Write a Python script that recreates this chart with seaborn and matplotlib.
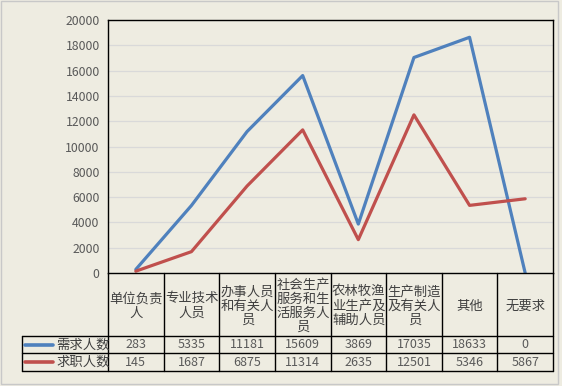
import matplotlib
matplotlib.use("Agg")
import matplotlib.pyplot as plt
import seaborn as sns
import pandas as pd
from matplotlib.lines import Line2D
from matplotlib.patches import Rectangle

categories = ["单位负责\n人", "专业技术\n人员", "办事人员\n和有关人\n员", "社会生产\n服务和生\n活服务人\n员",
              "农林牧渔\n业生产及\n辅助人员", "生产制造\n及有关人\n员", "其他", "无要求"]
series_names = ["需求人数", "求职人数"]
demand = [283, 5335, 11181, 15609, 3869, 17035, 18633, 0]
supply = [145, 1687, 6875, 11314, 2635, 12501, 5346, 5867]
yticks = [0, 2000, 4000, 6000, 8000, 10000, 12000, 14000, 16000, 18000, 20000]

colors = ["#4F81BD", "#C0504D"]
bg = "#EEECE1"
txt = "#595959"

sns.set_theme(style="white")
plt.rcParams['font.family'] = ['Noto Sans CJK SC', 'DejaVu Sans']

W, H = 562, 386
fig = plt.figure(figsize=(W / 100, H / 100), dpi=100, facecolor=bg)

L, R, T, B = 108, 553, 20, 273
ax = fig.add_axes([L / W, 1 - B / H, (R - L) / W, (B - T) / H])
ax.set_facecolor(bg)

n = len(categories)
df = pd.DataFrame({
    "x": [i + 0.5 for i in range(n)] * 2,
    "value": demand + supply,
    "series": [series_names[0]] * n + [series_names[1]] * n,
})
sns.lineplot(data=df, x="x", y="value", hue="series", palette=colors, linewidth=2.3,
             ax=ax, legend=False, sort=False)
ax.set_xlim(0, n)
ax.set_ylim(0, 20000)
ax.set_yticks(yticks)
ax.set_yticklabels([str(v) for v in yticks], color=txt, fontsize=8.8)
ax.set_xticks([])
ax.set_xlabel("")
ax.set_ylabel("")
ax.yaxis.grid(True, color="#D9D9D9", linewidth=0.9)
ax.set_axisbelow(True)
ax.tick_params(axis="y", length=0, pad=6)
for s in ax.spines.values():
    s.set_color("black")
    s.set_linewidth(1.0)

# table area in pixel coordinates
tab = fig.add_axes([0, 0, 1, 1], facecolor="none")
tab.set_xlim(0, W)
tab.set_ylim(H, 0)
tab.axis("off")
lw = 1.0
colw = (R - L) / n
xs = [L + i * colw for i in range(n + 1)]
r1, r2, r3 = 336, 353, 371
keyL = 22
for x in xs:
    tab.add_line(Line2D([x, x], [B, r3], color="black", lw=lw))
tab.add_line(Line2D([keyL, keyL], [r1, r3], color="black", lw=lw))
for y in (r1, r2, r3):
    tab.add_line(Line2D([keyL, R], [y, y], color="black", lw=lw))

for i, c in enumerate(categories):
    tab.text((xs[i] + xs[i + 1]) / 2 + 0.5, (B + r1) / 2 + 1, c, ha="center", va="center",
             fontsize=9.6, color="#404040", linespacing=1.02, multialignment="center")
for row, (vals, ytop, ybot) in enumerate([(demand, r1, r2), (supply, r2, r3)]):
    yc = (ytop + ybot) / 2
    for i, v in enumerate(vals):
        tab.text((xs[i] + xs[i + 1]) / 2, yc, str(v), ha="center", va="center",
                 fontsize=9, color=txt)
    tab.add_line(Line2D([25, 53], [yc, yc], color=colors[row], lw=2.6, solid_capstyle="round"))
    tab.text(56, yc, series_names[row], ha="left", va="center", fontsize=9.6, color="#404040")

tab.add_patch(Rectangle((0.5, 0.5), W - 5, H - 2.5, fill=False, edgecolor="#C8C8C8", lw=1))

fig.savefig("out.png", dpi=100, facecolor=bg)
